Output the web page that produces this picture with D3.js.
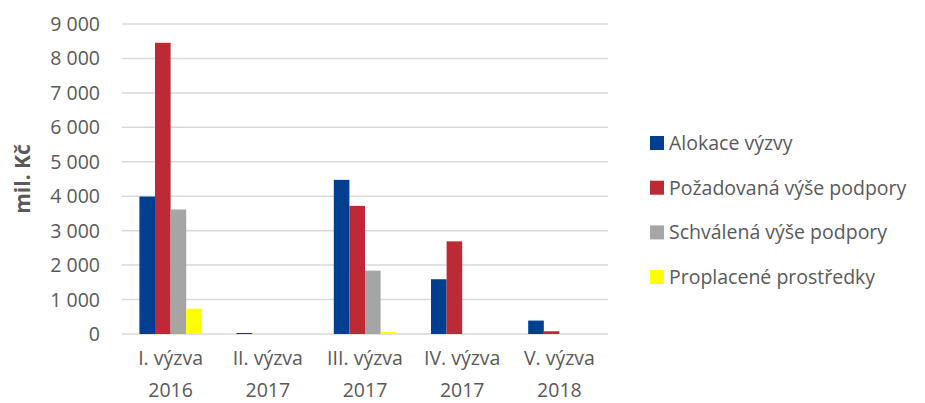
<!DOCTYPE html>
<html><head><meta charset="utf-8">
<script src="https://cdn.jsdelivr.net/npm/d3@7"></script>
<style>
html,body{margin:0;padding:0;background:#fff;}
svg{display:block;font-family:"Open Sans",Lato,sans-serif;}
</style></head>
<body><svg id="c" width="925" height="403"></svg>
<script>
const categories = [["I. výzva","2016"],["II. výzva","2017"],["III. výzva","2017"],["IV. výzva","2017"],["V. výzva","2018"]];
const seriesNames = ["Alokace výzvy","Požadovaná výše podpory","Schválená výše podpory","Proplacené prostředky"];
const seriesColors = ["#003f8f","#bd2a36","#a5a5a5","#ffff00"];
const alokace = [3990, 30, 4475, 1590, 390];
const pozadovana = [8455, 0, 3720, 2690, 80];
const schvalena = [3615, 0, 1840, 0, 0];
const proplacene = [735, 0, 60, 0, 0];
const yTicks = [0,1000,2000,3000,4000,5000,6000,7000,8000,9000];
const yTitle = "mil. Kč";

(function(){
const values = [alokace, pozadovana, schvalena, proplacene];
const svg = d3.select("#c");
const pL = 122, pR = 608, pT = 24, pB = 334;

const x0 = d3.scaleBand().domain(d3.range(categories.length)).range([pL,pR]).paddingInner(0.358).paddingOuter(0.179);
const x1 = d3.scaleBand().domain(d3.range(seriesNames.length)).range([0,x0.bandwidth()]);
const y = d3.scaleLinear().domain([0,9000]).range([pB,pT]);

const fmt = v => d3.format(",")(v).replace(/,/g," ");

svg.append("g").selectAll("line").data(yTicks).join("line")
  .attr("x1",pL).attr("x2",pR)
  .attr("y1",d=>y(d)).attr("y2",d=>y(d))
  .attr("stroke","#d9d9d9").attr("stroke-width",1.5);

svg.append("g").selectAll("text").data(yTicks).join("text")
  .attr("x",100).attr("y",d=>y(d)).attr("dy","0.36em")
  .attr("text-anchor","end").attr("fill","#595959").attr("font-size",19.5)
  .text(fmt);

const g = svg.append("g");
categories.forEach((c,i)=>{
  g.append("g").attr("transform",`translate(${x0(i)},0)`)
   .selectAll("rect").data(values.map((s,j)=>({j,v:s[i]}))).join("rect")
   .attr("x",d=>x1(d.j)).attr("width",x1.bandwidth())
   .attr("y",d=>y(d.v)).attr("height",d=>y(0)-y(d.v))
   .attr("fill",d=>seriesColors[d.j]);
});

const cl = svg.append("g").selectAll("text").data(categories).join("text")
  .attr("x",(d,i)=>x0(i)+x0.bandwidth()/2).attr("y",365)
  .attr("text-anchor","middle").attr("fill","#595959").attr("font-size",19.5);
cl.append("tspan").attr("x",(d,i)=>x0(i)+x0.bandwidth()/2).text(d=>d[0]);
cl.append("tspan").attr("x",(d,i)=>x0(i)+x0.bandwidth()/2).attr("dy",32).text(d=>d[1]);

svg.append("text").attr("transform","translate(29.5,179) rotate(-90)")
  .attr("text-anchor","middle").attr("font-weight","bold").attr("font-size",21)
  .attr("fill","#595959").text(yTitle);

const lg = svg.append("g").selectAll("g").data(seriesNames).join("g")
  .attr("transform",(d,i)=>`translate(650,${143+i*44.7})`);
lg.append("rect").attr("x",0).attr("y",-7).attr("width",14).attr("height",14).attr("fill",(d,i)=>seriesColors[i]);
lg.append("text").attr("x",19).attr("dy","0.36em").attr("fill","#595959").attr("font-size",19.5).text(d=>d);
})();
</script></body></html>
